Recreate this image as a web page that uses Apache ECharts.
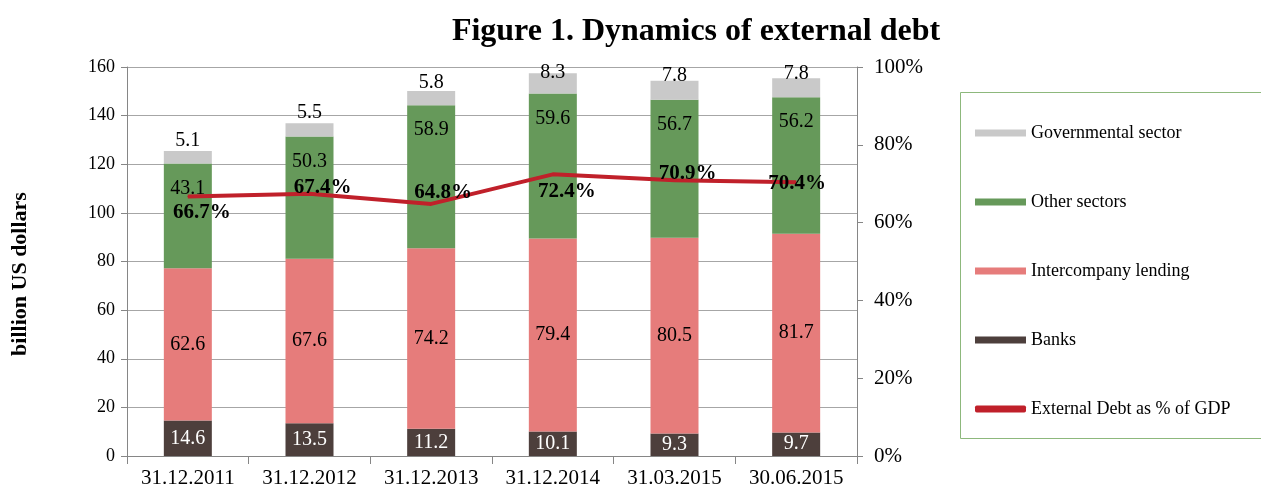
<!DOCTYPE html>
<html>
<head>
<meta charset="utf-8">
<script src="https://cdn.jsdelivr.net/npm/echarts@6/dist/echarts.min.js"></script>
<style>
  html, body { margin: 0; padding: 0; background: #fff; }
  #chart { width: 1261px; height: 489px; }
</style>
</head>
<body>
<div id="chart"></div>
<script>
  const categories = ['31.12.2011', '31.12.2012', '31.12.2013', '31.12.2014', '31.03.2015', '30.06.2015'];
  const banks = [14.6, 13.5, 11.2, 10.1, 9.3, 9.7];
  const intercompany = [62.6, 67.6, 74.2, 79.4, 80.5, 81.7];
  const otherSectors = [43.1, 50.3, 58.9, 59.6, 56.7, 56.2];
  const governmental = [5.1, 5.5, 5.8, 8.3, 7.8, 7.8];
  const debtToGdp = [66.7, 67.4, 64.8, 72.4, 70.9, 70.4];
  // label nudges, as in the original
  const gdpLabelOffsets = [[14, 16], [13, -6], [12, -11], [14, 17], [13, -7], [1, 1]];
  const govLabelOffsets = [[0, 0], [0, 0], [0, 2], [0, 9], [0, 5], [0, 6]];

  const font = 'Liberation Serif';

  const chart = echarts.init(document.getElementById('chart'));

  const barLabel = function (pos, color, extra) {
    return Object.assign({
      show: true, position: pos, color: color,
      fontFamily: font, fontSize: 20
    }, extra || {});
  };

  const option = {
    animation: false,
    textStyle: { fontFamily: font },
    title: {
      text: 'Figure 1. Dynamics of external debt',
      left: 691, top: 11, textAlign: 'center',
      textStyle: { fontFamily: font, fontSize: 32, fontWeight: 'bold', color: '#000' }
    },
    grid: { left: 127, right: 404, top: 67, bottom: 33 },
    legend: {
      orient: 'vertical',
      left: 970, top: 118,
      itemWidth: 51, itemHeight: 7, itemGap: 49,
      textStyle: { fontFamily: font, fontSize: 18, color: '#000', lineHeight: 20 },
      data: [
        { name: 'Governmental sector', icon: 'rect' },
        { name: 'Other sectors', icon: 'rect' },
        { name: 'Intercompany lending', icon: 'rect' },
        { name: 'Banks', icon: 'rect' },
        { name: 'External Debt as % of GDP', icon: 'roundRect' }
      ]
    },
    graphic: [{
      type: 'rect',
      shape: { x: 960.5, y: 92.5, width: 320, height: 346 },
      style: { fill: 'none', stroke: '#8DB87C', lineWidth: 1 }
    }, {
      type: 'text',
      x: 20, y: 274, rotation: Math.PI / 2,
      style: {
        text: 'billion US dollars', fontFamily: font, fontSize: 22, fontWeight: 'bold',
        fill: '#000', align: 'center', verticalAlign: 'middle'
      }
    }],
    xAxis: {
      type: 'category',
      data: categories,
      axisLine: { lineStyle: { color: '#868686' } },
      axisTick: { show: true, interval: 0, length: 8, lineStyle: { color: '#868686' } },
      axisLabel: { interval: 0, fontFamily: font, fontSize: 21, color: '#000', margin: 12 }
    },
    yAxis: [{
      type: 'value', min: 0, max: 160, interval: 20,
      axisLine: { show: true, lineStyle: { color: '#868686' } },
      axisTick: { show: true, length: 6, lineStyle: { color: '#868686' } },
      axisLabel: { fontFamily: font, fontSize: 18, color: '#000', margin: 12 },
      splitLine: { lineStyle: { color: '#A6A6A6' } }
    }, {
      type: 'value', min: 0, max: 100, interval: 20,
      axisLine: { show: true, lineStyle: { color: '#868686' } },
      axisTick: { show: true, length: 6, lineStyle: { color: '#868686' } },
      axisLabel: { fontFamily: font, fontSize: 21, color: '#000', margin: 17, formatter: '{value}%' },
      splitLine: { show: false }
    }],
    series: [{
      name: 'Banks', type: 'bar', stack: 'debt', barWidth: 48,
      data: banks,
      itemStyle: { color: '#4D3F3C' },
      label: barLabel('inside', '#fff')
    }, {
      name: 'Intercompany lending', type: 'bar', stack: 'debt',
      data: intercompany,
      itemStyle: { color: '#E67C7B' },
      label: barLabel('inside', '#000')
    }, {
      name: 'Other sectors', type: 'bar', stack: 'debt',
      data: otherSectors,
      itemStyle: { color: '#66995A' },
      label: barLabel('insideTop', '#000', { distance: 15 })
    }, {
      name: 'Governmental sector', type: 'bar', stack: 'debt',
      data: governmental.map(function (v, i) {
        return { value: v, label: { offset: govLabelOffsets[i] } };
      }),
      itemStyle: { color: '#C9C9C9' },
      label: barLabel('top', '#000', { distance: 0 })
    }, {
      name: 'External Debt as % of GDP', type: 'line', yAxisIndex: 1,
      symbol: 'circle', symbolSize: 1, showSymbol: true,
      data: debtToGdp.map(function (v, i) {
        return { value: v, label: { offset: gdpLabelOffsets[i] } };
      }),
      lineStyle: { color: '#C0202A', width: 4 },
      itemStyle: { color: '#C0202A' },
      label: {
        show: true, position: 'inside', color: '#000',
        fontFamily: font, fontSize: 21, fontWeight: 'bold',
        formatter: '{c}%'
      }
    }]
  };

  chart.setOption(option);
</script>
</body>
</html>
